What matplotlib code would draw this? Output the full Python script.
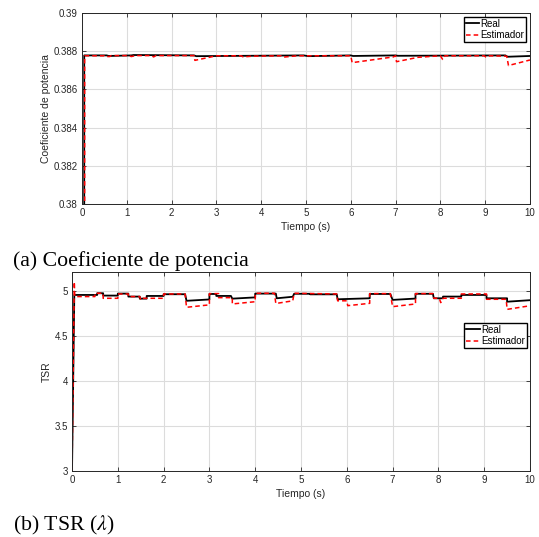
import numpy as np
import matplotlib
matplotlib.use('Agg')
import matplotlib.pyplot as plt

matplotlib.rcParams['font.family'] = "sans-serif"
matplotlib.rcParams['font.sans-serif'] = ["Liberation Sans", "DejaVu Sans"]
matplotlib.rcParams['mathtext.fontset'] = "stix"

# Coeficiente de potencia: breakpoints (t, value)
cp_real_t = [0.0, 0.05, 0.05, 0.55, 0.6, 1.1, 1.15, 2.5, 2.55, 4.95, 5.05, 6.0, 6.05,
             7.0, 7.05, 9.45, 9.5, 10.0]
cp_real_v = [0.3795, 0.3795, 0.38778, 0.38778, 0.38775, 0.38778, 0.38780, 0.38778, 0.38774,
             0.38778, 0.38774, 0.38778, 0.38775, 0.38778, 0.38776, 0.38778, 0.38771, 0.38775]

cp_est_t = [0.0, 0.06, 0.06, 0.5, 0.52, 0.62, 0.65, 1.05, 1.1, 1.2, 1.55, 1.6, 1.65, 2.5,
            2.52, 3.0, 3.55, 3.6, 3.8, 4.45, 4.5, 4.8, 6.0, 6.03, 6.95, 7.0, 7.02, 7.5,
            8.0, 8.05, 8.1, 8.98, 9.02, 9.1, 9.48, 9.52, 10.0]
cp_est_v = [0.3795, 0.3795, 0.38776, 0.38776, 0.38772, 0.38772, 0.38777, 0.38777, 0.38772,
            0.38777, 0.38777, 0.38770, 0.38777, 0.38777, 0.38752, 0.38776, 0.38776, 0.38770,
            0.38774, 0.38776, 0.38769, 0.38776, 0.38776, 0.38740, 0.38770, 0.38776, 0.38745,
            0.38768, 0.38776, 0.38757, 0.38776, 0.38776, 0.38768, 0.38776, 0.38774, 0.38725,
            0.38754]

# TSR: breakpoints (t, value)
tsr_real_t = [0.0, 0.05, 0.55, 0.55, 0.68, 0.68, 1.0, 1.0, 1.23, 1.23, 1.48, 1.48, 1.63,
              1.63, 2.0, 2.0, 2.47, 2.5, 3.0, 3.0, 3.15, 3.15, 3.47, 3.5, 4.0, 4.0, 4.45,
              4.47, 4.82, 4.85, 5.2, 5.2, 5.78, 5.8, 6.5, 6.5, 6.95, 7.0, 7.5, 7.5, 7.88,
              7.9, 8.1, 8.1, 8.5, 8.5, 9.05, 9.05, 9.5, 9.5, 10.0]
tsr_real_v = [3.0, 4.955, 4.955, 4.974, 4.974, 4.948, 4.948, 4.970, 4.970, 4.937, 4.937,
              4.914, 4.914, 4.944, 4.944, 4.963, 4.963, 4.890, 4.905, 4.966, 4.966, 4.944,
              4.944, 4.914, 4.928, 4.970, 4.970, 4.918, 4.935, 4.968, 4.968, 4.962, 4.962,
              4.907, 4.918, 4.966, 4.966, 4.900, 4.915, 4.968, 4.968, 4.918, 4.918, 4.937,
              4.937, 4.955, 4.955, 4.918, 4.918, 4.880, 4.897]

tsr_est_t = [0.0, 0.05, 0.06, 0.5, 0.5, 0.68, 0.68, 1.0, 1.0, 1.23, 1.23, 1.48, 1.5,
             1.55, 2.0, 2.0, 2.47, 2.5, 3.0, 3.0, 3.2, 3.2, 3.5, 3.5, 4.0, 4.0, 4.42, 4.45,
             4.82, 4.85, 5.78, 5.8, 6.0, 6.02, 6.5, 6.5, 6.95, 7.0, 7.5, 7.5, 7.88, 7.9,
             8.02, 8.05, 8.1, 8.5, 8.5, 9.05, 9.05, 9.48, 9.5, 10.0]
tsr_est_v = [3.0, 5.10, 4.937, 4.937, 4.974, 4.974, 4.918, 4.918, 4.966, 4.966, 4.937,
             4.937, 4.900, 4.918, 4.918, 4.966, 4.966, 4.818, 4.845, 4.970, 4.970, 4.925,
             4.925, 4.855, 4.880, 4.974, 4.974, 4.860, 4.890, 4.974, 4.966, 4.890, 4.890,
             4.836, 4.862, 4.970, 4.970, 4.825, 4.855, 4.970, 4.970, 4.918, 4.918, 4.870,
             4.918, 4.918, 4.966, 4.966, 4.907, 4.907, 4.795, 4.835]

GRAY = '#262626'
LEG_KW = dict(fontsize=7, frameon=True, fancybox=False, edgecolor='k', handlelength=1.4,
              handletextpad=0.1, borderpad=0.2, labelspacing=0.15, framealpha=1)


def style_axes(ax):
    ax.grid(True, color='#dcdcdc', linewidth=0.8)
    ax.set_axisbelow(True)
    ax.tick_params(direction='in', top=True, right=True, labelsize=7,
                   colors=GRAY, length=3, width=0.6, pad=3)
    for s in ax.spines.values():
        s.set_color(GRAY)
        s.set_linewidth(0.7)
    ax.set_xlim(0, 10)
    ax.set_xticks(np.arange(0, 11, 1))
    ax.set_xlabel('Tiempo (s)', fontsize=7.5, color=GRAY, labelpad=3)


fig = plt.figure(figsize=(5.39, 5.37), dpi=100)

ax1 = fig.add_axes([0.1521, 0.6201, 0.8312, 0.3557])
ax1.plot(cp_real_t, cp_real_v, color='k', linewidth=1.3, label='Real')
ax1.plot(cp_est_t, cp_est_v, color='#ff0000', linewidth=1.1, linestyle=(0, (3, 2)),
         label='Estimador')
style_axes(ax1)
ax1.set_ylim(0.38, 0.39)
ax1.set_yticks([0.38, 0.382, 0.384, 0.386, 0.388, 0.39])
ax1.set_yticklabels(['0.38', '0.382', '0.384', '0.386', '0.388', '0.39'])
ax1.set_ylabel('Coeficiente de potencia', fontsize=7.5, color=GRAY, labelpad=2)
ax1.legend(loc='upper right', borderaxespad=0.4, **LEG_KW)

ax2 = fig.add_axes([0.1336, 0.1229, 0.8497, 0.3706])
ax2.plot(tsr_real_t, tsr_real_v, color='k', linewidth=1.3, label='Real')
ax2.plot(tsr_est_t, tsr_est_v, color='#ff0000', linewidth=1.1, linestyle=(0, (3, 2)),
         label='Estimador')
style_axes(ax2)
ax2.set_ylim(3, 5.21)
ax2.set_yticks([3, 3.5, 4, 4.5, 5])
ax2.set_yticklabels(['3', '3.5', '4', '4.5', '5'])
ax2.set_ylabel('TSR', fontsize=7.5, color=GRAY, labelpad=2)
ax2.legend(loc='upper right', bbox_to_anchor=(0.997, 0.755), borderaxespad=0.2, **LEG_KW)

fig.text(13 / 539, 1 - 266 / 537, '(a) Coeficiente de potencia', fontsize=15.7,
         family='Liberation Serif', va='baseline', ha='left')
fig.text(13 / 539, 1 - 530 / 537, r'(b) TSR ($\lambda$)', fontsize=15.7,
         family='Liberation Serif', va='baseline', ha='left')

fig.savefig('out.png', dpi=100)
